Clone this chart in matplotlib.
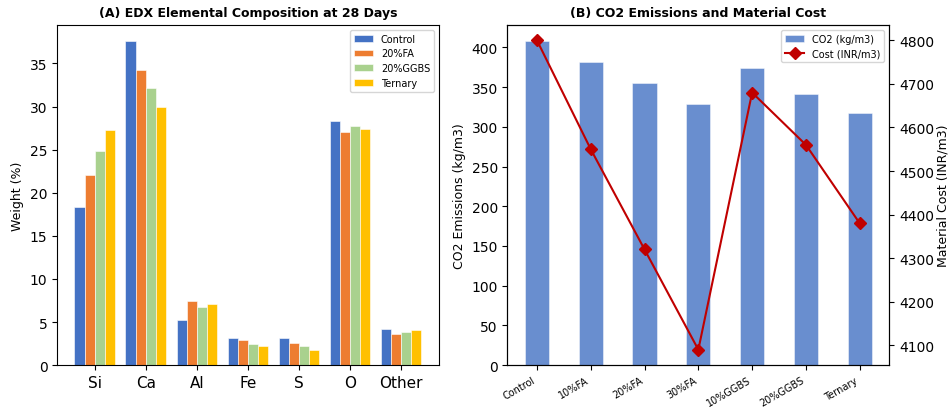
import numpy as np
import matplotlib.pyplot as plt

# (A) EDX data
elements = ['Si', 'Ca', 'Al', 'Fe', 'S', 'O', 'Other']
mixes = ['Control', '20%FA', '20%GGBS', 'Ternary']
control = [18.4, 37.6, 5.2, 3.1, 3.1, 28.3, 4.2]
fa20 = [22.1, 34.2, 7.4, 2.9, 2.6, 27.1, 3.6]
ggbs20 = [24.8, 32.1, 6.8, 2.4, 2.2, 27.7, 3.9]
ternary = [27.3, 30.0, 7.1, 2.2, 1.8, 27.4, 4.1]
colors = ['#4472C4', '#ED7D31', '#A9D18E', '#FFC000']

# (B) CO2 and cost data
mix_names = ['Control', '10%FA', '20%FA', '30%FA', '10%GGBS', '20%GGBS', 'Ternary']
co2 = [408, 381, 355, 329, 374, 341, 318]
cost = [4800, 4550, 4320, 4090, 4680, 4560, 4380]

fig, (ax1, ax2) = plt.subplots(1, 2, figsize=(9.52, 4.1), dpi=100)
fig.subplots_adjust(left=0.060, right=0.934, top=0.937, bottom=0.107, wspace=0.18)

x = np.arange(len(elements))
w = 0.2
for i, (name, vals) in enumerate(zip(mixes, [control, fa20, ggbs20, ternary])):
    ax1.bar(x + (i - 1.5) * w, vals, w, label=name, color=colors[i],
            edgecolor='white', linewidth=0.4)
ax1.set_xticks(x)
ax1.set_xticklabels(elements, fontsize=11)
ax1.set_ylabel('Weight (%)', fontsize=9)
ax1.set_title('(A) EDX Elemental Composition at 28 Days', fontsize=9, fontweight='bold')
ax1.legend(fontsize=7)

xb = np.arange(len(mix_names))
ax2.bar(xb, co2, 0.45, color='#4472C4', alpha=0.8, label='CO2 (kg/m3)',
        edgecolor='white', linewidth=0.4)
ax2.set_ylabel('CO2 Emissions (kg/m3)', fontsize=9)
ax2.set_xticks(xb)
ax2.set_xticklabels(mix_names, rotation=30, ha='right', fontsize=7)
ax2.set_title('(B) CO2 Emissions and Material Cost', fontsize=9, fontweight='bold')

ax3 = ax2.twinx()
ax3.plot(xb, cost, color='#C00000', marker='D', markersize=6, linewidth=1.5,
         label='Cost (INR/m3)')
ax3.set_ylabel('Material Cost (INR/m3)', fontsize=9, labelpad=2)

h1, l1 = ax2.get_legend_handles_labels()
h2, l2 = ax3.get_legend_handles_labels()
ax2.legend(h1 + h2, l1 + l2, fontsize=7, loc='upper right')

plt.savefig('out.png')
